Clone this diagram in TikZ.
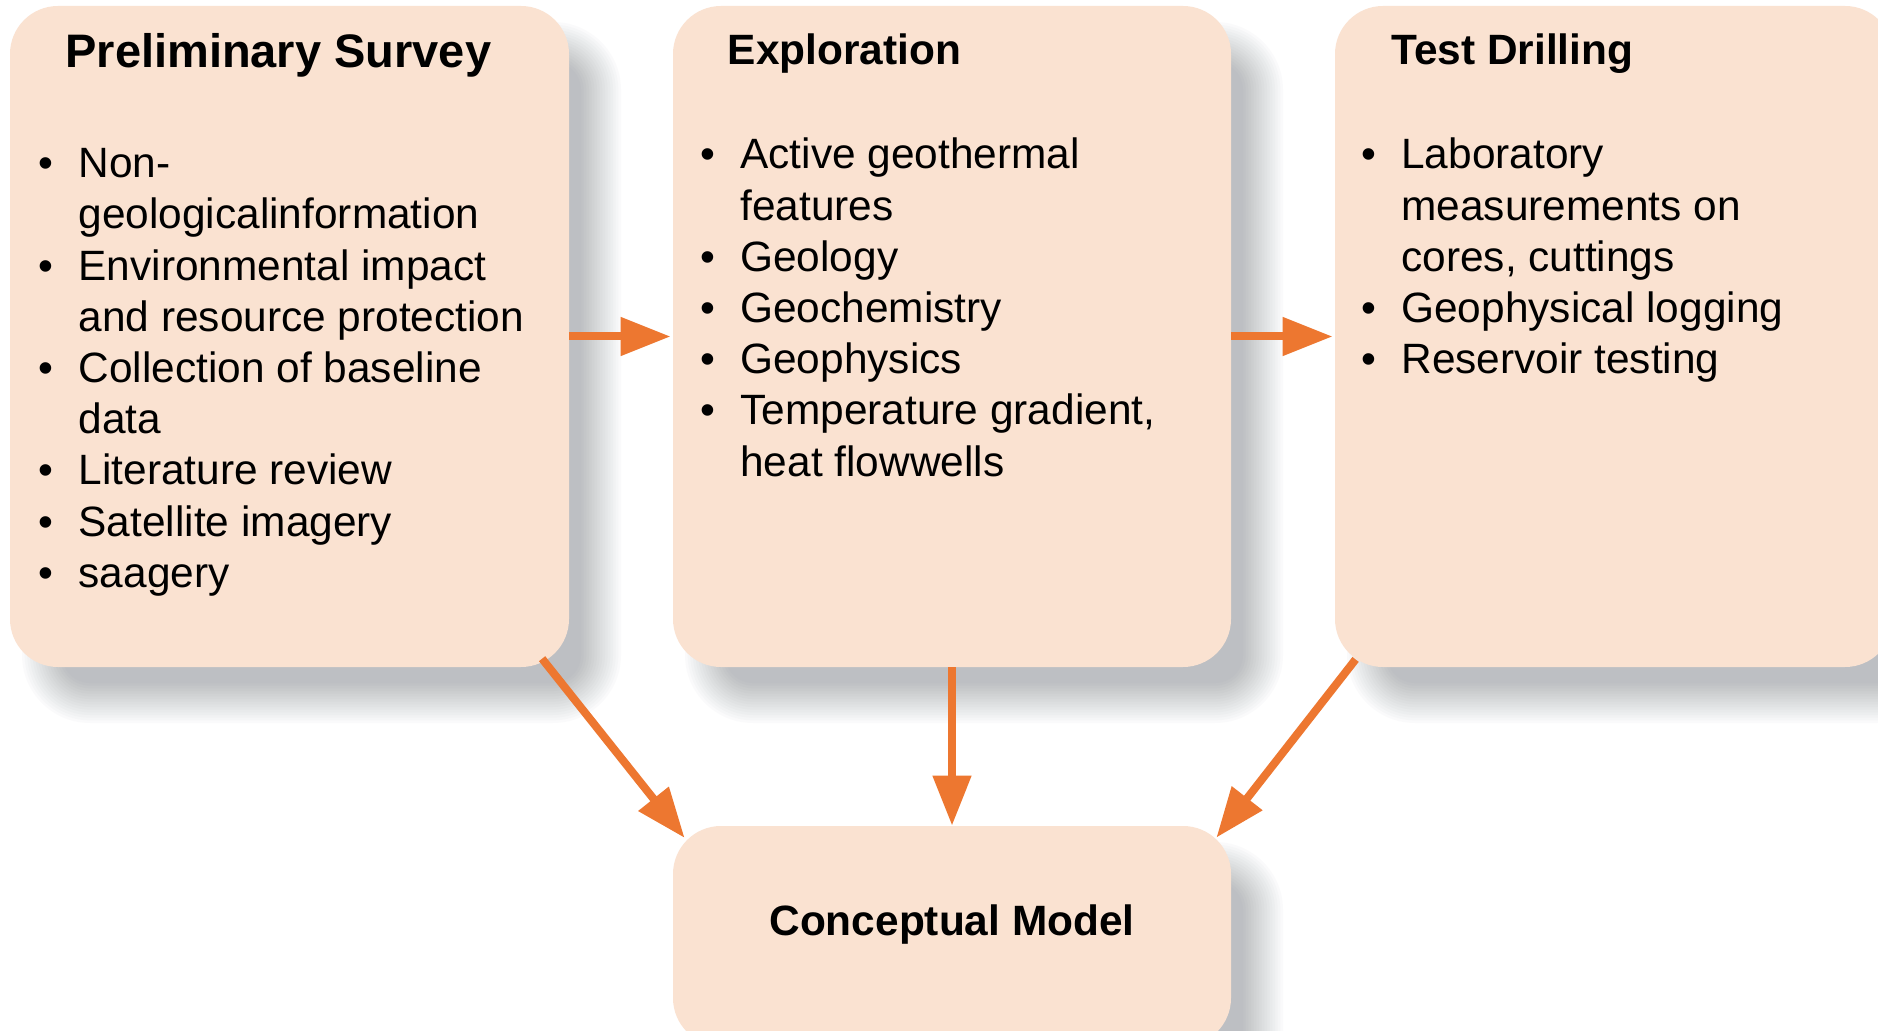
\documentclass[tikz,border=0pt]{standalone}
\usepackage{fontspec}
\setmainfont{Liberation Sans}
\usetikzlibrary{arrows.meta,calc}
\definecolor{peach}{RGB}{250,226,209}
\definecolor{arroworange}{RGB}{237,119,48}
\definecolor{shadowgray}{RGB}{189,191,195}
\newcommand{\bl}{\makebox[20pt][l]{\textbullet}}
\newcommand{\hind}{\hspace*{20pt}}
\newcommand{\softshadow}[4]{%
  \foreach \k in {1,...,16}{%
    \pgfmathsetmacro{\shE}{20-40*(\k-1)/15}%
    \pgfmathsetmacro{\shA}{1/(17-\k)}%
    \pgfmathsetmacro{\shR}{(48+\shE)/2}%
    \fill[shadowgray, fill opacity=\shA, rounded corners=\shR pt]
      ({#1+32-\shE},{#2+36-\shE}) rectangle ({#3+32+\shE},{#4+36+\shE});
  }}
\begin{document}
\begin{tikzpicture}[
  x=0.5pt, y=-0.5pt,
  box/.style={rectangle, fill=peach, rounded corners=24pt, inner sep=0pt, minimum height=330.5pt},
  titletext/.style={anchor=base west, inner sep=0pt, font=\bfseries\fontsize{21.2pt}{25.6pt}\selectfont},
  bodytext/.style={anchor=base west, inner sep=0pt, font=\fontsize{21.2pt}{25.6pt}\selectfont},
  flow/.style={draw=arroworange, line width=4pt, -{Triangle[length=25pt,width=18.5pt]}}
]
\useasboundingbox (0,0) rectangle (1878,1031);
\fill[white] (0,0) rectangle (1878,1031);
\clip (0,0) rectangle (1878,1031);

% shadows
\softshadow{10}{6}{569}{667}
\softshadow{673}{6}{1231}{667}
\softshadow{1335}{6}{1893}{667}
\softshadow{673}{826}{1231}{1046}

% boxes
\node[box, minimum width=279.5pt] (b1) at (289.5,336.5) {};
\node[box, minimum width=279pt] (b2) at (952,336.5) {};
\node[box, minimum width=279pt] (b3) at (1614,336.5) {};
\node[box, minimum width=279pt, minimum height=110pt] (b4) at (952,936) {};

% titles
\node[titletext, font=\bfseries\fontsize{23.5pt}{28pt}\selectfont] (t1) at (65,67.3) {Preliminary Survey};
\node[titletext] (t2) at (727.5,64.3) {Exploration};
\node[titletext] (t3) at (1391,64.3) {Test Drilling};
\node[titletext, anchor=base] (t4) at (952,935) {Conceptual Model};

% bodies
\node[bodytext] (l1) at (38.3,177.7) {\begin{tabular}[t]{@{}l@{}}
\bl Non-\\
\hind geologicalinformation\\
\bl Environmental impact\\
\hind and resource protection\\
\bl Collection of baseline\\
\hind data\\
\bl Literature review\\
\bl Satellite imagery\\
\bl saagery
\end{tabular}};
\node[bodytext] (l2) at (700,169) {\begin{tabular}[t]{@{}l@{}}
\bl Active geothermal\\
\hind features\\
\bl Geology\\
\bl Geochemistry\\
\bl Geophysics\\
\bl Temperature gradient,\\
\hind heat flowwells
\end{tabular}};
\node[bodytext] (l3) at (1361,169) {\begin{tabular}[t]{@{}l@{}}
\bl Laboratory\\
\hind measurements on\\
\hind cores, cuttings\\
\bl Geophysical logging\\
\bl Reservoir testing
\end{tabular}};

% connectors
\draw[flow, shorten >=1pt] (b1.east) -- (b2.west);
\draw[flow, shorten >=1pt] (b2.east) -- (b3.west);
\draw[flow] (b2.south) -- (b4.north);
\draw[flow] ($(b1.south east)+(-27.3,-8.7)$) -- ($(b4.north west)+(12,12.3)$);
\draw[flow] ($(b3.south west)+(21,-8)$) -- ($(b4.north east)+(-15,12)$);
\end{tikzpicture}
\end{document}
